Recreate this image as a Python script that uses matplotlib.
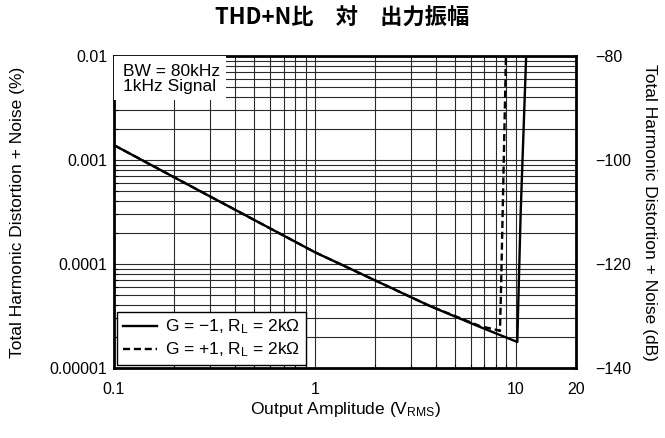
import matplotlib
matplotlib.use('Agg')
import matplotlib.pyplot as plt
import numpy as np

# output amplitude (Vrms) and THD+N (%)
amp_inv = [0.1, 0.262, 1.0, 3.75, 6.65, 10.2, 10.3, 10.6, 11.3]
thd_inv = [1.39e-3, 5.15e-4, 1.30e-4, 3.94e-5, 2.48e-5, 1.78e-5, 3.77e-5, 3.09e-4, 1.05e-2]

amp_noninv = [0.1, 0.262, 1.0, 3.75, 6.65, 8.08, 8.36, 8.44, 8.65, 8.96]
thd_noninv = [1.39e-3, 5.15e-4, 1.30e-4, 3.94e-5, 2.53e-5, 2.32e-5, 2.27e-5, 4.5e-5, 4.12e-4, 1.05e-2]

labels = ['G = \u22121, R$_\\mathrm{L}$ = 2k\u03a9', 'G = +1, R$_\\mathrm{L}$ = 2k\u03a9']
x_ticks = [0.1, 1, 10, 20]
x_ticklabels = ['0.1', '1', '10', '20']
y_ticks = [1e-5, 1e-4, 1e-3, 1e-2]
y_ticklabels = ['0.00001', '0.0001', '0.001', '0.01']
db_ticks = [-140, -120, -100, -80]

plt.rcParams['font.family'] = ['Liberation Sans', 'DejaVu Sans']
plt.rcParams['mathtext.fontset'] = 'custom'
plt.rcParams['mathtext.rm'] = 'Liberation Sans'
plt.rcParams['mathtext.it'] = 'Liberation Sans:italic'

fig = plt.figure(figsize=(6.65, 4.38), dpi=100)
ax = fig.add_axes([0.1714, 0.1598, 0.6948, 0.7123])

ax.set_xscale('log')
ax.set_yscale('log')
ax.set_xlim(0.1, 20)
ax.set_ylim(1e-5, 1e-2)

ax.grid(True, which='both', color='#2a2a2a', lw=0.8)
ax.set_axisbelow(True)

ax.plot(amp_inv, thd_inv, color='black', lw=1.7, label=labels[0], zorder=3)
ax.plot(amp_noninv, thd_noninv, color='black', lw=1.7, ls=(0, (3, 1.6)), label=labels[1], zorder=3)

ax.set_xticks(x_ticks)
ax.set_xticklabels(x_ticklabels)
ax.set_yticks(y_ticks)
ax.set_yticklabels(y_ticklabels)
ax.tick_params(which='both', direction='in', top=False, right=False, labelsize=11.5)
ax.tick_params(which='major', length=0)
ax.tick_params(axis='y', which='major', pad=5)
ax.tick_params(axis='x', which='major', pad=10)
ax.tick_params(which='minor', length=3, width=0.8)
for s in ax.spines.values():
    s.set_linewidth(2)

# dB scale on the right: 0.01% = -80dB ... 0.00001% = -140dB
ax2 = ax.twinx()
ax2.set_ylim(20 * np.log10(1e-5 / 100), 20 * np.log10(1e-2 / 100))
ax2.set_yticks(db_ticks)
ax2.tick_params(length=0, pad=14, labelsize=11.5)
for s in ax2.spines.values():
    s.set_visible(False)

# info box top left
ax.add_patch(plt.Rectangle((0, 0.859), 0.242, 0.141, transform=ax.transAxes,
                           facecolor='white', edgecolor='none', zorder=4))
ax.text(0.02, 0.975, 'BW = 80kHz\n1kHz Signal', transform=ax.transAxes,
        fontsize=12.5, va='top', ha='left', linespacing=1.0, zorder=5)

leg = ax.legend(loc='lower left', fontsize=12.5, frameon=True, fancybox=False,
                edgecolor='black', framealpha=1, borderaxespad=0.15, handlelength=2.0,
                handletextpad=0.45, labelspacing=0.25, borderpad=0.35)
leg.get_frame().set_linewidth(1.0)
leg.set_zorder(6)

fig.text(0.515, 0.958, 'THD+N比\u3000対\u3000出力振幅', ha='center', va='center',
         fontsize=16, fontweight='bold', family=['Noto Sans CJK JP', 'DejaVu Sans'])
fig.text(0.519, 0.064, 'Output Amplitude (V$_\\mathrm{RMS}$)', ha='center', va='center', fontsize=12.5)
fig.text(0.027, 0.516, 'Total Harmonic Distortion + Noise (%)', ha='center', va='center',
         rotation=90, fontsize=12.5)
fig.text(0.977, 0.516, 'Total Harmonic Distortion + Noise (dB)', ha='center', va='center',
         rotation=270, fontsize=12.5)

fig.savefig('out.png', dpi=100)
